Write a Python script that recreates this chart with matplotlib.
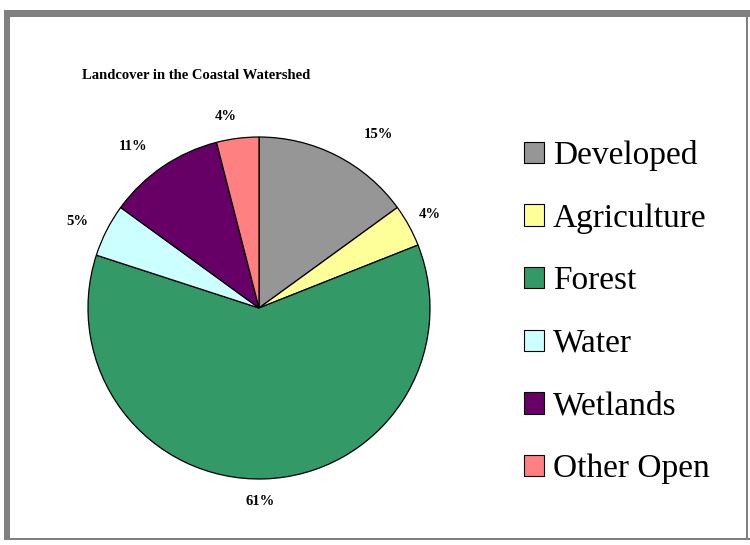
import matplotlib
matplotlib.use("Agg")
import matplotlib.pyplot as plt
from matplotlib.patches import Rectangle, Patch
import numpy as np

categories = ["Developed", "Agriculture", "Forest", "Water", "Wetlands", "Other Open"]
values = [15, 4, 61, 5, 11, 4]
pct_labels = ["15%", "4%", "61%", "5%", "11%", "4%"]
colors = ["#969696", "#FFFF99", "#339966", "#CCFFFF", "#660066", "#FF8080"]
title = "Landcover in the Coastal Watershed"

# label placement tweaks (style): radial factor, angle offset in degrees
label_dist = [1.23, 1.14, 1.13, 1.18, 1.20, 1.135]
label_dang = [-7.5, 0.0, -1.5, 1.5, 3.8, 2.8]

plt.rcParams['font.family'] = ['Liberation Serif', 'DejaVu Serif']

W, H = 750, 545
fig = plt.figure(figsize=(7.5, 5.45), dpi=100)
fig.patch.set_facecolor("white")

# frame
gray = "#808080"
fig.add_artist(Rectangle((4 / W, 1 - 17 / H), (W - 4) / W, 7 / H, transform=fig.transFigure,
                         facecolor=gray, edgecolor="none"))
fig.add_artist(Rectangle((4 / W, 1 - 540 / H), 6 / W, (540 - 10) / H, transform=fig.transFigure,
                         facecolor=gray, edgecolor="none"))
fig.add_artist(Rectangle((4 / W, 1 - 540 / H), (W - 4) / W, 2 / H, transform=fig.transFigure,
                         facecolor=gray, edgecolor="none"))
fig.add_artist(Rectangle((746 / W, 1 - 540 / H), 2 / W, (540 - 10) / H, transform=fig.transFigure,
                         facecolor=gray, edgecolor="none"))

cx, cy, r = 259, 308, 171
ax = fig.add_axes([(cx - r) / W, (H - cy - r) / H, 2 * r / W, 2 * r / H])
wedges, _ = ax.pie(values, colors=colors, startangle=90, counterclock=False,
                   wedgeprops=dict(edgecolor="black", linewidth=0.9))
ax.set_xlim(-1, 1)
ax.set_ylim(-1, 1)
ax.set_aspect("equal")
ax.axis("off")

for w, lab, d, da in zip(wedges, pct_labels, label_dist, label_dang):
    mid = np.deg2rad((w.theta1 + w.theta2) / 2 + da)
    ax.text(d * np.cos(mid), d * np.sin(mid), lab, ha="center", va="center",
            fontsize=10.5, fontweight="bold", clip_on=False)

fig.text(196 / W, 1 - 75 / H, title, ha="center", va="center", fontsize=10.5, fontweight="bold")

handles = [Patch(facecolor=c, edgecolor="black", linewidth=0.8) for c in colors]
leg = fig.legend(handles, categories, loc="upper left", bbox_to_anchor=(524 / W, 1 - 140 / H),
                 frameon=False, fontsize=24, handlelength=0.6, handleheight=0.6,
                 handletextpad=0.27, labelspacing=0.965, borderaxespad=0, borderpad=0)

fig.savefig("out.png", dpi=100, facecolor="white")
